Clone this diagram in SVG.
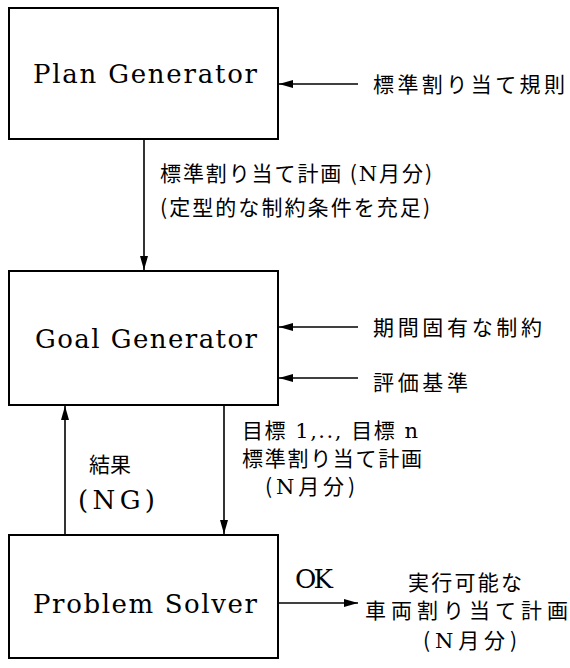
<svg xmlns="http://www.w3.org/2000/svg" width="570" height="668" viewBox="0 0 570 668">
<style>
.box{fill:#fff;stroke:#000;stroke-width:2}
.ln{stroke:#000;stroke-width:1.6;fill:none}
.en{font-family:"DejaVu Serif","Liberation Serif",serif;font-size:26px;fill:#000}
.jp{font-family:"Noto Sans CJK JP","Noto Sans CJK SC",sans-serif;font-size:21px;fill:#000}
.sf{font-family:"DejaVu Serif","Liberation Serif",serif}
</style>
<defs>
<marker id="ah" viewBox="0 0 14 8" refX="14" refY="4" markerWidth="14" markerHeight="8" markerUnits="userSpaceOnUse" orient="auto"><path d="M0,0 L14,4 L0,8 z" fill="#000"/></marker>
</defs>
<rect width="570" height="668" fill="#fff"/>
<g id="plan-generator">
<rect class="box" x="9" y="8" width="269" height="131"/>
<text class="en" x="145" y="83" text-anchor="middle" textLength="224" lengthAdjust="spacing">Plan Generator</text>
</g>
<g id="goal-generator">
<rect class="box" x="9" y="271" width="269" height="134"/>
<text class="en" x="146" y="348" text-anchor="middle" textLength="222" lengthAdjust="spacing">Goal Generator</text>
</g>
<g id="problem-solver">
<rect class="box" x="9" y="535" width="269" height="123"/>
<text class="en" x="145" y="613" text-anchor="middle" textLength="224" lengthAdjust="spacing">Problem Solver</text>
</g>
<g id="connectors">
<line class="ln" x1="358" y1="84" x2="279" y2="84" marker-end="url(#ah)"/>
<line class="ln" x1="144" y1="139" x2="144" y2="270" marker-end="url(#ah)"/>
<line class="ln" x1="358" y1="327" x2="279" y2="327" marker-end="url(#ah)"/>
<line class="ln" x1="358" y1="378" x2="279" y2="378" marker-end="url(#ah)"/>
<line class="ln" x1="65" y1="535" x2="65" y2="406" marker-end="url(#ah)"/>
<line class="ln" x1="224" y1="405" x2="224" y2="534" marker-end="url(#ah)"/>
<line class="ln" x1="278" y1="603" x2="358" y2="603" marker-end="url(#ah)"/>
</g>
<g id="labels">
<text class="jp" x="373" y="92" textLength="192" lengthAdjust="spacing">標準割り当て規則</text>
<text class="jp" x="160" y="181" textLength="272" lengthAdjust="spacing">標準割り当て計画 (<tspan class="sf">N</tspan>月分)</text>
<text class="jp" x="160" y="215" textLength="270" lengthAdjust="spacing">(定型的な制約条件を充足)</text>
<text class="jp" x="373" y="335" textLength="169" lengthAdjust="spacing">期間固有な制約</text>
<text class="jp" x="373" y="390" textLength="95" lengthAdjust="spacing">評価基準</text>
<text class="jp" x="89" y="472">結果</text>
<text class="en" x="78" y="509" textLength="77" lengthAdjust="spacing">(NG)</text>
<text class="jp" x="242" y="438" textLength="176" lengthAdjust="spacing">目標<tspan class="sf"> 1,.., </tspan>目標<tspan class="sf"> n</tspan></text>
<text class="jp" x="242" y="466" textLength="180" lengthAdjust="spacing">標準割り当て計画</text>
<text class="jp" x="265" y="494" textLength="90" lengthAdjust="spacing">(<tspan class="sf">N</tspan>月分)</text>
<text class="en" x="295" y="588" textLength="38" lengthAdjust="spacing">OK</text>
<text class="jp" x="408" y="590" textLength="114" lengthAdjust="spacing">実行可能な</text>
<text class="jp" x="365" y="618" textLength="203" lengthAdjust="spacing">車両割り当て計画</text>
<text class="jp" x="423" y="648" textLength="94" lengthAdjust="spacing">(<tspan class="sf">N</tspan>月分)</text>
</g>
</svg>
